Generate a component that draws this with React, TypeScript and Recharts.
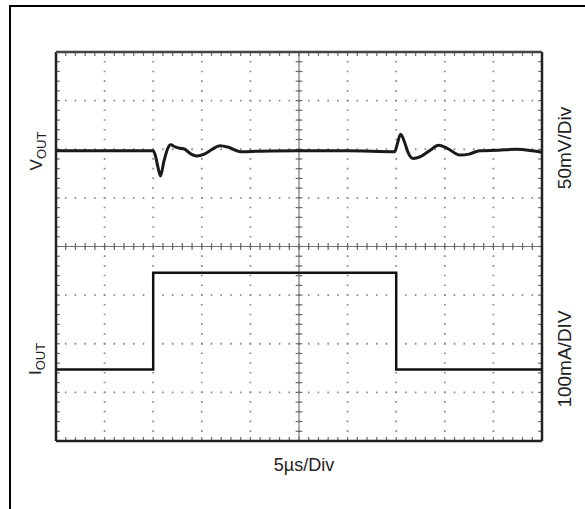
import { LineChart, Line, XAxis, YAxis, CartesianGrid, ReferenceLine } from 'recharts';

const W = 585;
const H = 509;

// scope screen in divisions: 10 across, 8 down, centre = 0
const DIV_X = [0, 1, 2, 3, 4, 5, 6, 7, 8, 9, 10];
const DIV_Y = [-4, -3, -2, -1, 0, 1, 2, 3, 4];
const MINOR_X = Array.from({ length: 51 }, (_, i) => +(i * 0.2).toFixed(1));
const MINOR_Y = Array.from({ length: 41 }, (_, i) => +(-4 + i * 0.2).toFixed(1));

// VOUT trace (upper half)
const vTime = [0, 1, 2.0, 2.05, 2.1, 2.15, 2.22, 2.3, 2.36, 2.45, 2.55, 2.65, 2.78, 2.9, 3.05, 3.2, 3.37, 3.55, 3.79, 4.2, 5, 6, 6.97, 7.02, 7.09, 7.17, 7.25, 7.35, 7.5, 7.7, 7.87, 8.05, 8.31, 8.5, 8.72, 9.1, 9.48, 9.8, 10];
const vOut = [1.97, 1.97, 1.97, 1.85, 1.62, 1.45, 1.75, 2.02, 2.09, 2.05, 2.02, 2.0, 1.9, 1.86, 1.9, 1.99, 2.07, 2.04, 1.95, 1.96, 1.97, 1.97, 1.95, 2.1, 2.31, 2.15, 1.92, 1.81, 1.85, 1.98, 2.08, 2.02, 1.88, 1.9, 1.97, 1.98, 2.0, 1.97, 1.94];

// IOUT load step (lower half)
const iTime = [0, 2, 2, 7, 7, 10];
const iOut = [-2.53, -2.53, -0.54, -0.54, -2.53, -2.53];

const vData = vTime.map((t, i) => ({ t, v: vOut[i] }));
const iData = iTime.map((t, i) => ({ t, v: iOut[i] }));

const FONT = "'Liberation Sans Narrow', 'Arial Narrow', 'Liberation Sans', Arial, sans-serif";
const TICK = '#6a6a6a';
const FRAME = '#222';
const T = 0.07; // half length of centre ticks
const E = 0.08; // edge tick length

function Rotated({ x, y, size, children }: { x: number; y: number; size: number; children: any }) {
  return (
    <div
      style={{
        position: 'absolute',
        left: x,
        top: y,
        transform: 'translate(-50%, -50%) rotate(-90deg)',
        whiteSpace: 'nowrap',
        lineHeight: 1,
        fontSize: size,
        fontFamily: FONT,
        color: '#222',
      }}
    >
      {children}
    </div>
  );
}

export default function App() {
  return (
    <div style={{ position: 'absolute', left: 0, top: 0, width: W, height: H, overflow: 'hidden', background: '#fff' }}>
      <div style={{ position: 'absolute', left: 0, top: 0 }}>
        <LineChart width={W} height={H} margin={{ top: 52, right: 43, bottom: 68, left: 56 }}>
          <CartesianGrid
            verticalValues={DIV_X.slice(1, -1)}
            horizontalValues={DIV_Y.slice(1, -1)}
            stroke="#8a8a8a"
            strokeWidth={1.8}
            strokeDasharray="1.6 8.12"
            strokeDashoffset={0.8}
          />
          <XAxis type="number" dataKey="t" domain={[0, 10]} ticks={DIV_X} hide allowDataOverflow />
          <YAxis type="number" domain={[-4, 4]} ticks={DIV_Y} hide allowDataOverflow />

          <ReferenceLine x={5} stroke="#777" strokeWidth={1.2} />
          <ReferenceLine y={0} stroke="#777" strokeWidth={1.2} />

          {MINOR_X.map((x) => (
            <ReferenceLine key={'cx' + x} segment={[{ x, y: -T }, { x, y: T }]} stroke={TICK} strokeWidth={1.2} />
          ))}
          {MINOR_Y.map((y) => (
            <ReferenceLine key={'cy' + y} segment={[{ x: 5 - T, y }, { x: 5 + T, y }]} stroke={TICK} strokeWidth={1.2} />
          ))}
          {MINOR_X.map((x) => (
            <ReferenceLine key={'tx' + x} segment={[{ x, y: 4 }, { x, y: 4 - E }]} stroke={TICK} strokeWidth={1.2} />
          ))}
          {MINOR_X.map((x) => (
            <ReferenceLine key={'bx' + x} segment={[{ x, y: -4 }, { x, y: -4 + E }]} stroke={TICK} strokeWidth={1.2} />
          ))}
          {MINOR_Y.map((y) => (
            <ReferenceLine key={'ly' + y} segment={[{ x: 0, y }, { x: E, y }]} stroke={TICK} strokeWidth={1.2} />
          ))}
          {MINOR_Y.map((y) => (
            <ReferenceLine key={'ry' + y} segment={[{ x: 10, y }, { x: 10 - E, y }]} stroke={TICK} strokeWidth={1.2} />
          ))}

          {/* screen frame */}
          <ReferenceLine x={0} stroke={FRAME} strokeWidth={2.5} />
          <ReferenceLine x={10} stroke={FRAME} strokeWidth={2.5} />
          <ReferenceLine y={4} stroke="#444" strokeWidth={2.5} />
          <ReferenceLine y={-4} stroke={FRAME} strokeWidth={2.5} />

          <Line data={vData} dataKey="v" type="monotone" stroke="#1a1a1a" strokeWidth={3} dot={false} isAnimationActive={false} />
          <Line data={iData} dataKey="v" type="linear" stroke="#111" strokeWidth={2.5} dot={false} isAnimationActive={false} />
        </LineChart>
      </div>

      <div style={{ position: 'absolute', left: 9, top: 5, width: 700, height: 700, borderLeft: '2px solid #000', borderTop: '2px solid #000', pointerEvents: 'none' }} />

      <Rotated x={38} y={151} size={17}>
        V<span style={{ fontSize: 13, verticalAlign: 'sub' }}>OUT</span>
      </Rotated>
      <Rotated x={37} y={359} size={17}>
        I<span style={{ fontSize: 13, verticalAlign: 'sub' }}>OUT</span>
      </Rotated>
      <Rotated x={564} y={148} size={19}>
        50mV/Div
      </Rotated>
      <Rotated x={564} y={359} size={19}>
        100mA/DIV
      </Rotated>
      <div
        style={{
          position: 'absolute',
          left: 304,
          top: 465,
          transform: 'translate(-50%, -50%)',
          whiteSpace: 'nowrap',
          lineHeight: 1,
          fontSize: 18,
          fontFamily: FONT,
          color: '#222',
        }}
      >
        5µs/Div
      </div>
    </div>
  );
}
